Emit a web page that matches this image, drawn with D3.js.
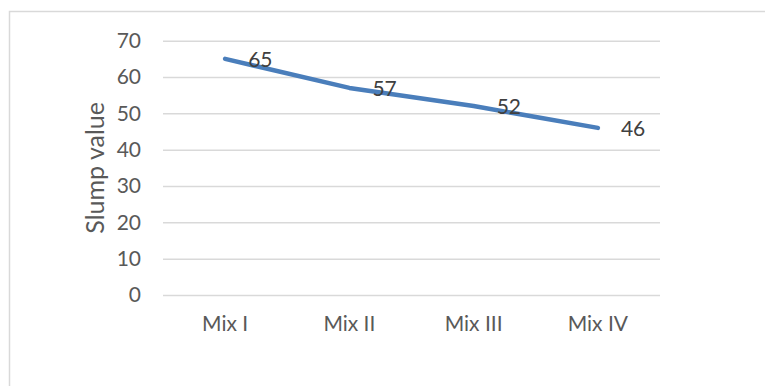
<!DOCTYPE html>
<html>
<head>
<meta charset="utf-8">
<script src="https://cdn.jsdelivr.net/npm/d3@7"></script>
<style>
  html, body { margin: 0; padding: 0; background: #fff; }
  svg { display: block; font-family: Lato, "Open Sans", sans-serif; }
</style>
</head>
<body>
<svg id="chart" width="765" height="386"></svg>
<script>
// Slump value for each concrete mix
const categories = ["Mix I", "Mix II", "Mix III", "Mix IV"];
const slumpValues = [65, 57, 52, 46];
const yTicks = [0, 10, 20, 30, 40, 50, 60, 70];
const yTitle = "Slump value";

const svg = d3.select("#chart");
const W = 765, H = 386;
const plot = { left: 163, right: 660, top: 40.7, bottom: 295 };

// outer chart frame (runs off the right and bottom edges)
svg.append("rect")
  .attr("x", 9.5).attr("y", 11.5)
  .attr("width", W + 20).attr("height", H + 20)
  .attr("fill", "#fff")
  .attr("stroke", "#d9d9d9")
  .attr("stroke-width", 1.5);

const x = d3.scaleBand().domain(categories).range([plot.left, plot.right]);
const y = d3.scaleLinear().domain([0, 70]).range([plot.bottom, plot.top]);

// horizontal gridlines with value labels
const yAxis = svg.append("g")
  .attr("transform", `translate(${plot.left},0)`)
  .call(d3.axisLeft(y).tickValues(yTicks)
    .tickSize(-(plot.right - plot.left)).tickPadding(22));
yAxis.select(".domain").remove();
yAxis.selectAll(".tick line").attr("stroke", "#d9d9d9").attr("stroke-width", 1.5);
yAxis.selectAll(".tick text")
  .attr("fill", "#595959")
  .style("font-size", "21px")
  .style("font-family", "Lato, sans-serif");

// category labels
const xAxis = svg.append("g")
  .attr("transform", `translate(0,${plot.bottom})`)
  .call(d3.axisBottom(x).tickSize(0).tickPadding(21));
xAxis.select(".domain").remove();
xAxis.selectAll(".tick text")
  .attr("fill", "#595959")
  .style("font-size", "21px")
  .style("font-family", "Lato, sans-serif");

// axis title
svg.append("text")
  .attr("transform", `translate(104,${(plot.top + plot.bottom) / 2}) rotate(-90)`)
  .attr("text-anchor", "middle")
  .attr("fill", "#595959")
  .style("font-size", "25px")
  .text(yTitle);

// series line
const pts = categories.map((c, i) => ({ c, v: slumpValues[i] }));
const line = d3.line()
  .x(d => x(d.c) + x.bandwidth() / 2)
  .y(d => y(d.v));

svg.append("path")
  .datum(pts)
  .attr("d", line)
  .attr("fill", "none")
  .attr("stroke", "#4a7ebb")
  .attr("stroke-width", 4.5)
  .attr("stroke-linecap", "round")
  .attr("stroke-linejoin", "round");

// data labels to the right of each point
svg.append("g").selectAll("text")
  .data(pts)
  .join("text")
  .attr("x", d => x(d.c) + x.bandwidth() / 2 + 23)
  .attr("y", d => y(d.v))
  .attr("dy", "0.38em")
  .attr("fill", "#404040")
  .style("font-size", "21px")
  .text(d => d.v);
</script>
</body>
</html>
